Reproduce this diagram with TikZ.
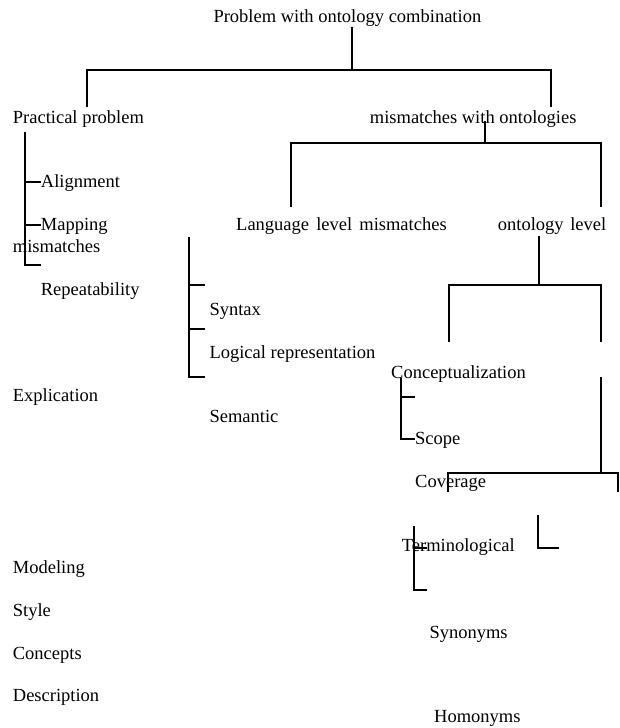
\documentclass[tikz,border=0pt]{standalone}
\usepackage{fontspec}
\setmainfont{Liberation Serif}
\begin{document}
\begin{tikzpicture}[x=1pt,y=-1pt,
  lbl/.style={anchor=base west, inner sep=0pt, font=\fontsize{18.5}{22}\selectfont},
  ln/.style={line width=2pt, line join=miter}]
\useasboundingbox (0,0) rectangle (619,728);
% texts
\node[lbl] (title) at (213.3,22.8) {Problem with ontology combination};
\node[lbl] (pp) at (12.7,123) {Practical problem};
\node[lbl] (mwo) at (369.7,123) {mismatches with ontologies};
\node[lbl] (align) at (40.7,187.5) {Alignment};
\node[lbl] (mapping) at (40.7,230.5) {Mapping};
\node[lbl] (mism) at (12.7,252.2) {mismatches};
\node[lbl] (rep) at (40.7,295.5) {Repeatability};
\node[lbl] (lang) at (236,230.5) {Language\hspace{2.5pt} level\hspace{2.5pt} mismatches};
\node[lbl] (ontl) at (497.7,230.5) {ontology\hspace{2pt} level};
\node[lbl] (syn) at (209.3,315.5) {Syntax};
\node[lbl] (logr) at (209.3,358.2) {Logical representation};
\node[lbl] (expl) at (12.7,401.5) {Explication};
\node[lbl] (sem) at (209.3,422.2) {Semantic};
\node[lbl] (conc) at (391,378.8) {Conceptualization};
\node[lbl] (scope) at (415,444.8) {Scope};
\node[lbl] (cov) at (415,487.2) {Coverage};
\node[lbl] (term) at (401.7,551.2) {Terminological};
\node[lbl] (model) at (12.7,573.8) {Modeling};
\node[lbl] (style) at (12.7,616.2) {Style};
\node[lbl] (concepts) at (12.7,659.5) {Concepts};
\node[lbl] (desc) at (12.7,701.5) {Description};
\node[lbl] (syno) at (429.3,638.2) {Synonyms};
\node[lbl] (homo) at (434,722.8) {Homonyms};
% top tree
\coordinate (t0) at (352,27);
\coordinate (t1) at (352,70);
\coordinate (tl) at (87,70);
\coordinate (tr) at (551,70);
\coordinate (tlb) at (87,107);
\coordinate (trb) at (551,107);
\draw[ln] (t0) -- (t1);
\draw[ln] (tlb) -- (tl) -- (tr) -- (trb);
% practical problem bracket
\coordinate (p0) at (25,132);
\coordinate (p1) at (25,182);
\coordinate (p2) at (25,225);
\coordinate (p3) at (25,265);
\coordinate (p1e) at (41,182);
\coordinate (p2e) at (41,225);
\coordinate (p3e) at (41,265);
\draw[ln] (p0) -- (p3) -- (p3e);
\draw[ln] (p1) -- (p1e);
\draw[ln] (p2) -- (p2e);
% mismatches with ontologies tree
\coordinate (m0) at (485,121);
\coordinate (m1) at (485,143);
\coordinate (ml) at (291,143);
\coordinate (mr) at (601,143);
\coordinate (mlb) at (291,207);
\coordinate (mrb) at (601,207);
\draw[ln] (m0) -- (m1);
\draw[ln] (mlb) -- (ml) -- (mr) -- (mrb);
% language level bracket
\coordinate (s0) at (189,237);
\coordinate (s1) at (189,285);
\coordinate (s2) at (189,329);
\coordinate (s3) at (189,377);
\coordinate (s1e) at (205,285);
\coordinate (s2e) at (205,329);
\coordinate (s3e) at (205,377);
\draw[ln] (s0) -- (s3) -- (s3e);
\draw[ln] (s1) -- (s1e);
\draw[ln] (s2) -- (s2e);
% ontology level tree
\coordinate (o0) at (539,236);
\coordinate (o1) at (539,285);
\coordinate (ol) at (449,285);
\coordinate (or) at (601,285);
\coordinate (olb) at (449,342);
\coordinate (orb) at (601,342);
\draw[ln] (o0) -- (o1);
\draw[ln] (olb) -- (ol) -- (or) -- (orb);
% conceptualization bracket
\coordinate (c0) at (401,378);
\coordinate (c1) at (401,397);
\coordinate (c2) at (401,439);
\coordinate (c1e) at (415,397);
\coordinate (c2e) at (415,439);
\draw[ln] (c0) -- (c2) -- (c2e);
\draw[ln] (c1) -- (c1e);
% right tree
\coordinate (r0) at (601,377);
\coordinate (r1) at (601,473);
\coordinate (rl) at (448,473);
\coordinate (rr) at (618,473);
\coordinate (rlb) at (448,492);
\coordinate (rrb) at (618,492);
\draw[ln] (r0) -- (r1);
\draw[ln] (rlb) -- (rl) -- (rr) -- (rrb);
% L shape
\coordinate (k0) at (538,515);
\coordinate (k1) at (538,548);
\coordinate (k2) at (559,548);
\draw[ln] (k0) -- (k1) -- (k2);
% terminological bracket
\coordinate (g0) at (414,526);
\coordinate (g1) at (414,548);
\coordinate (g2) at (414,590);
\coordinate (g1e) at (427,548);
\coordinate (g2e) at (427,590);
\draw[ln] (g0) -- (g2) -- (g2e);
\draw[ln] (g1) -- (g1e);
\end{tikzpicture}
\end{document}
